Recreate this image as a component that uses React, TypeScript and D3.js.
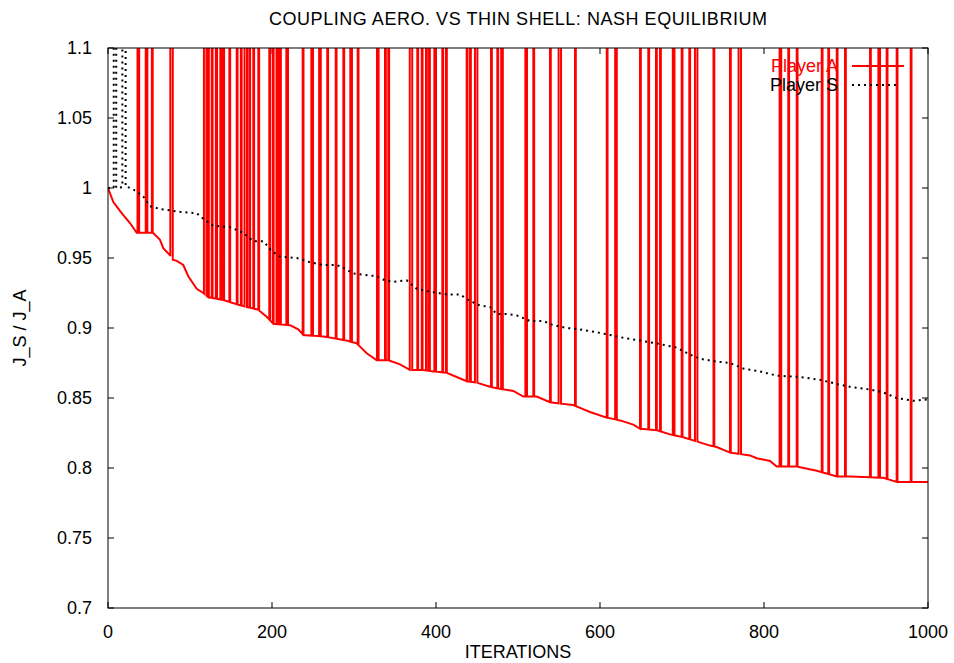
import React from "react";
import * as d3 from "d3";

const title = "COUPLING AERO. VS THIN SHELL: NASH EQUILIBRIUM";
const xLabel = "ITERATIONS";
const yLabel = "J_S / J_A";
const xTicks = [0, 200, 400, 600, 800, 1000];
const yTicks = [0.7, 0.75, 0.8, 0.85, 0.9, 0.95, 1, 1.05, 1.1];
const seriesNames = ["Player A", "Player S"];

// Player A baseline (iteration, J ratio)
const aIter = [0, 6.5, 16.7, 26.8, 35, 47.6, 54.9, 63.4, 67.4, 75.6, 77.7, 83.8, 91.8, 97.9, 108.2, 116.2, 122.3, 140.6, 157, 169.1, 177.2, 183.3, 193.5, 201.6, 222, 232, 238.2, 262.6, 291.1, 303.3, 315.5, 327.7, 341.8, 356.1, 368.3, 384.5, 396.7, 413, 425.2, 437.4, 449.6, 465.9, 474, 494.3, 506.5, 522.8, 539, 551.2, 567.4, 587.8, 608.2, 624.4, 640.6, 648.8, 669.1, 685.4, 701.6, 717.9, 734.1, 742.3, 758.5, 782.9, 791.1, 807.3, 815.5, 839.9, 864.3, 888.7, 904.9, 945.5, 961.8, 1000];
const aVal = [1.0, 0.99, 0.982, 0.975, 0.968, 0.968, 0.968, 0.963, 0.957, 0.952, 0.949, 0.948, 0.945, 0.937, 0.928, 0.925, 0.922, 0.92, 0.917, 0.915, 0.914, 0.913, 0.908, 0.903, 0.902, 0.899, 0.895, 0.894, 0.891, 0.889, 0.882, 0.877, 0.877, 0.874, 0.87, 0.87, 0.869, 0.868, 0.865, 0.862, 0.861, 0.858, 0.857, 0.855, 0.851, 0.851, 0.847, 0.846, 0.845, 0.84, 0.836, 0.834, 0.831, 0.828, 0.827, 0.824, 0.822, 0.819, 0.816, 0.815, 0.811, 0.809, 0.807, 0.805, 0.801, 0.801, 0.798, 0.794, 0.794, 0.793, 0.79, 0.79];

// Player A: iterations where J jumps far above the plotted range, and how long it stays up
const aSpikeIter = [36, 46, 53.5, 76, 117, 122, 126.5, 131.5, 137, 140.6, 148, 157, 162, 166.5, 172.3, 177.2, 183.3, 196.7, 201, 205.5, 209.8, 217.5, 237.4, 248, 257.5, 267.4, 277.7, 287, 295.5, 304.5, 328, 337.8, 341.8, 368, 377.2, 382.6, 387.8, 391.5, 398, 407.7, 412.2, 437.4, 441.5, 447.5, 467.1, 474.8, 479.5, 509, 518.7, 539, 549.5, 569.5, 608.2, 618.5, 648.8, 658.9, 668.3, 673.2, 688.8, 699.6, 708.9, 715.8, 738.4, 758.5, 769, 819, 829.6, 839.9, 870.4, 878.4, 888.7, 898.8, 929.3, 939.5, 949.6, 961.8, 978.9];
const aSpikeLen = [2, 2, 1, 3, 3, 1, 1, 1.5, 2, 1, 1, 1, 1, 3, 1, 1, 1, 1, 1, 2, 1, 2, 1, 2, 2, 1, 1, 1, 2, 1, 2, 1, 1, 3, 1, 1, 1, 1, 2, 1, 1, 1, 1, 3, 1, 1, 2, 2, 1, 1, 3, 1, 1, 2, 1, 1, 1, 1, 2, 1, 1, 3, 1, 1, 3, 2, 1, 1, 1, 1, 1, 1, 1, 2, 1, 1, 1];

// Player S baseline
const sIter = [0, 10.6, 22.8, 30.9, 43, 51.2, 63.4, 87.8, 108.2, 116.2, 128.4, 148.8, 165, 177.2, 189.4, 199.6, 209.8, 230.1, 246.3, 262.6, 278.9, 287, 299.1, 311.3, 327.7, 337.8, 347.9, 364.3, 376.5, 392.7, 413, 429.3, 439.4, 453.7, 465.9, 474, 486.2, 498.4, 514.6, 530.9, 543.1, 559.4, 575.6, 596, 612.2, 628.4, 648.8, 669.1, 693.5, 709.8, 722, 742.3, 758.5, 774.8, 795.1, 815.5, 844, 868.3, 888.7, 904.9, 929.3, 945.5, 961.8, 982, 1000];
const sVal = [1.0, 1.0, 1.001, 0.999, 0.994, 0.987, 0.985, 0.983, 0.982, 0.978, 0.973, 0.972, 0.968, 0.962, 0.962, 0.955, 0.951, 0.95, 0.947, 0.945, 0.945, 0.943, 0.939, 0.938, 0.937, 0.934, 0.933, 0.934, 0.928, 0.926, 0.924, 0.924, 0.92, 0.916, 0.915, 0.91, 0.91, 0.909, 0.905, 0.905, 0.902, 0.9, 0.899, 0.897, 0.895, 0.893, 0.891, 0.889, 0.886, 0.881, 0.878, 0.876, 0.875, 0.871, 0.869, 0.866, 0.865, 0.863, 0.86, 0.858, 0.856, 0.854, 0.85, 0.848, 0.849];
const sSpikeIter = [7, 17.5];
const sSpikeLen = [3, 4];

const HIGH = 1.3;

function buildSeries(it: number[], val: number[], spIt: number[], spLen: number[]) {
  const base = d3.scaleLinear().domain(it).range(val);
  const pts: { x: number; y: number; o: number }[] = it.map((x, i) => ({ x, y: val[i], o: 0 }));
  spIt.forEach((s, i) => {
    const e = s + spLen[i];
    pts.push({ x: s, y: base(s), o: 1 });
    pts.push({ x: s, y: HIGH, o: 2 });
    pts.push({ x: e, y: HIGH, o: 3 });
    pts.push({ x: e, y: base(e), o: 4 });
  });
  pts.sort((a, b) => a.x - b.x || a.o - b.o);
  return pts.filter((p) => {
    if (p.o !== 0) return true;
    return !spIt.some((s, i) => p.x > s && p.x < s + spLen[i]);
  });
}

export default function App() {
  const W = 954, H = 663;
  const left = 108, right = 928, top = 48, bottom = 608;
  const x = d3.scaleLinear().domain([0, 1000]).range([left, right]);
  const y = d3.scaleLinear().domain([0.7, 1.1]).range([bottom, top]);
  const line = d3.line<{ x: number; y: number }>().x((d) => x(d.x)).y((d) => y(d.y));
  const a = buildSeries(aIter, aVal, aSpikeIter, aSpikeLen);
  const s = buildSeries(sIter, sVal, sSpikeIter, sSpikeLen);
  const font = "'Liberation Sans', Arial, Helvetica, sans-serif";
  const fs = 18;
  const tl = 6;
  return (
    <svg width={W} height={H} style={{ position: "absolute", left: 0, top: 0, background: "#fff" }} fontFamily={font}>
      <rect x={0} y={0} width={W} height={H} fill="#fff" />
      <defs>
        <clipPath id="plot">
          <rect x={left} y={top} width={right - left} height={bottom - top} />
        </clipPath>
      </defs>
      <text x={518} y={25} textAnchor="middle" fontSize={fs} textLength={498} lengthAdjust="spacing">{title}</text>
      {yTicks.map((t) => (
        <g key={"y" + t}>
          <line x1={left} x2={left + tl} y1={y(t)} y2={y(t)} stroke="#000" />
          <line x1={right} x2={right - tl} y1={y(t)} y2={y(t)} stroke="#000" />
          <text x={left - 16} y={y(t) + 6} textAnchor="end" fontSize={fs}>{d3.format("")(+t.toFixed(2))}</text>
        </g>
      ))}
      {xTicks.map((t) => (
        <g key={"x" + t}>
          <line x1={x(t)} x2={x(t)} y1={bottom} y2={bottom - tl} stroke="#000" />
          <line x1={x(t)} x2={x(t)} y1={top} y2={top + tl} stroke="#000" />
          <text x={x(t)} y={bottom + 30} textAnchor="middle" fontSize={fs}>{t}</text>
        </g>
      ))}
      <text x={518} y={658} textAnchor="middle" fontSize={fs}>{xLabel}</text>
      <text transform={`translate(26,${(top + bottom) / 2}) rotate(-90)`} textAnchor="middle" fontSize={fs}>{yLabel}</text>
      <g clipPath="url(#plot)">
        <path d={line(a) || ""} fill="none" stroke="#ff0000" strokeWidth={2} strokeLinejoin="miter" />
        <path d={line(s) || ""} fill="none" stroke="#000" strokeWidth={2} strokeDasharray="2,4" />
      </g>
      <text x={838} y={72} textAnchor="end" fontSize={fs} fill="#ff0000">{seriesNames[0]}</text>
      <line x1={852} x2={904} y1={66} y2={66} stroke="#ff0000" strokeWidth={2} />
      <text x={838} y={91} textAnchor="end" fontSize={fs} fill="#000">{seriesNames[1]}</text>
      <line x1={852} x2={900} y1={85} y2={85} stroke="#000" strokeWidth={2} strokeDasharray="2,4" />
      <rect x={left} y={top} width={right - left} height={bottom - top} fill="none" stroke="#000" strokeWidth={1} />
    </svg>
  );
}
